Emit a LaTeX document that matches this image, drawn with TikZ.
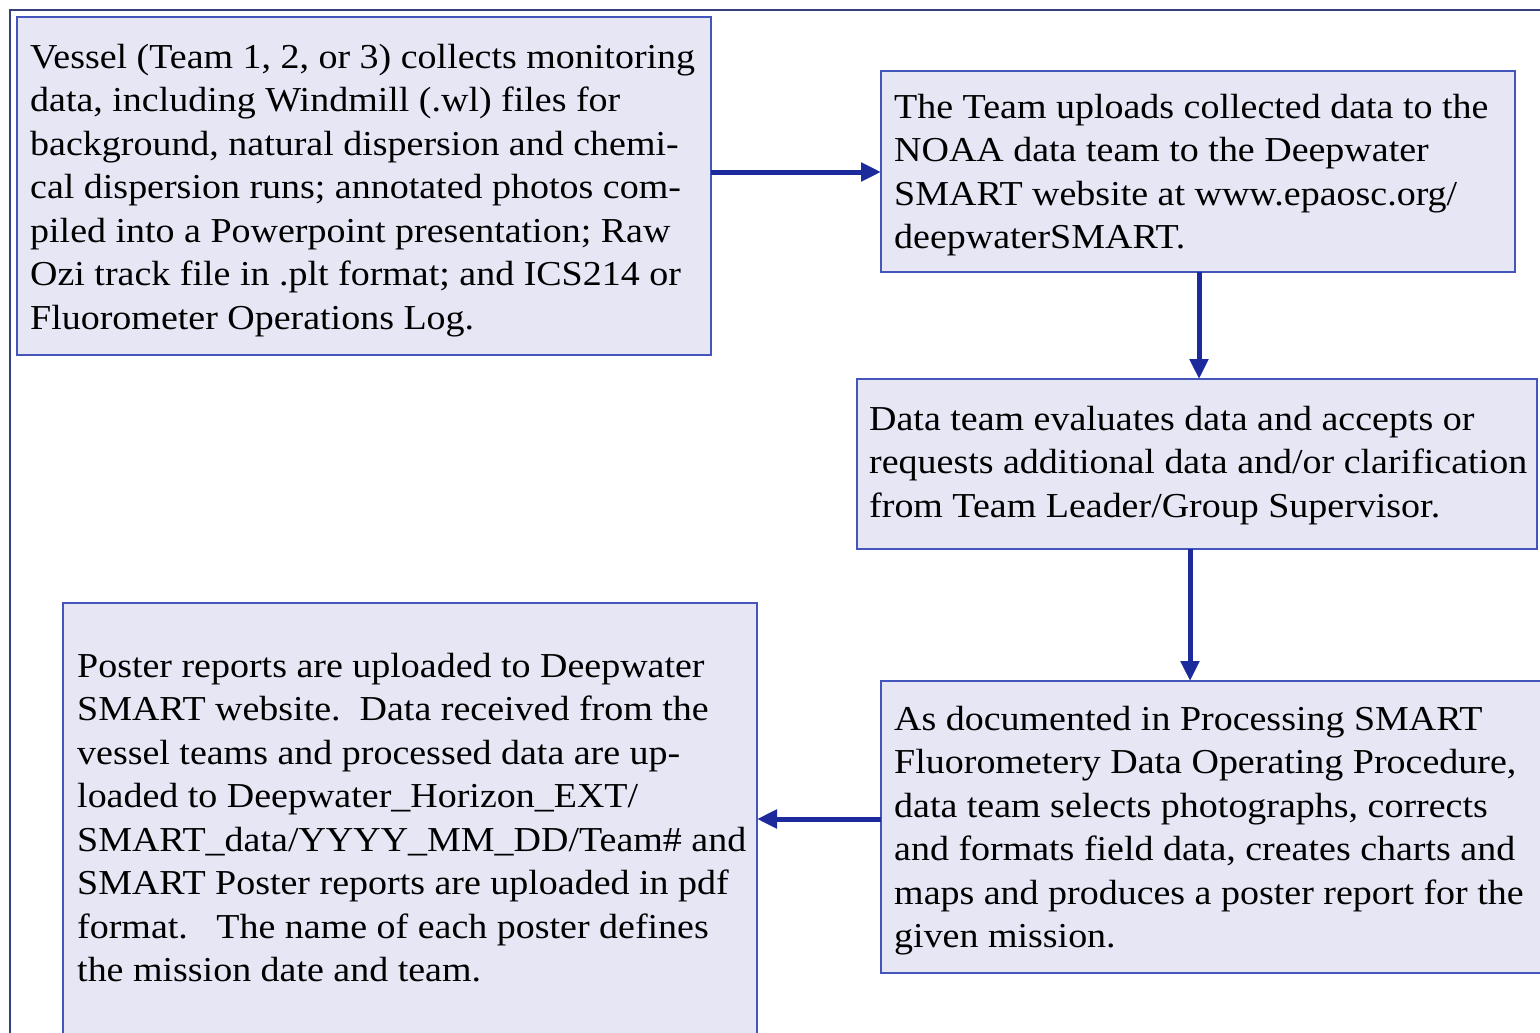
\documentclass[tikz,border=0pt]{standalone}
\usepackage{fontspec}
\setmainfont{Liberation Serif}[FakeStretch=1.085]
\usetikzlibrary{arrows.meta}
\definecolor{boxfill}{HTML}{E6E6F5}
\definecolor{boxline}{HTML}{4456BC}
\definecolor{arrowc}{HTML}{1C2A9C}
\definecolor{framec}{HTML}{34407E}
\newcommand\fl{\rule{0pt}{30pt}}
\begin{document}
\begin{tikzpicture}[x=1pt,y=-1pt,
  flowbox/.style={draw=boxline,fill=boxfill,line width=2pt},
  flowtext/.style={anchor=north west,inner sep=0pt,align=left,
    font=\fontsize{35}{43.5}\selectfont},
  flowarrow/.style={draw=arrowc,line width=5pt,
    -{Triangle[length=20pt,width=18pt]}}]
\useasboundingbox (0,0) rectangle (1540,1033);
% outer frame
\draw[framec,line width=2.5pt] (10,1040) -- (10,10) -- (1545,10);
% boxes
\draw[flowbox] (17,17) rectangle (711,355);
\draw[flowbox] (881,71) rectangle (1515,272);
\draw[flowbox] (857,379) rectangle (1537,549);
\draw[flowbox] (881,681) rectangle (1550,973);
\draw[flowbox] (63,603) rectangle (757,1045);
\path (17,17) coordinate (b1nw) (711,355) coordinate (b1se)
      (881,71) coordinate (b2nw) (1515,272) coordinate (b2se)
      (857,379) coordinate (b3nw) (1537,549) coordinate (b3se)
      (881,681) coordinate (b4nw) (1550,973) coordinate (b4se)
      (63,603) coordinate (b5nw) (757,1045) coordinate (b5se);
% text
\node[flowtext] (t1) at (30,38) {\fl Vessel (Team 1, 2, or 3) collects monitoring\\
data, including Windmill (.wl) files for\\
background, natural dispersion and chemi-\\
cal dispersion runs; annotated photos com-\\
piled into a Powerpoint presentation; Raw\\
Ozi track file in .plt format; and ICS214 or\\
Fluorometer Operations Log.};
\node[flowtext] (t2) at (894,88) {\fl The Team uploads collected data to the\\
NOAA data team to the Deepwater\\
SMART website at www.epaosc.org/\\
deepwaterSMART.};
\node[flowtext] (t3) at (869,400) {\fl Data team evaluates data and accepts or\\
requests additional data and/or clarification\\
from Team Leader/Group Supervisor.};
\node[flowtext] (t4) at (894,700) {\fl As documented in Processing SMART\\
Fluorometery Data Operating Procedure,\\
data team selects photographs, corrects\\
and formats field data, creates charts and\\
maps and produces a poster report for the\\
given mission.};
\node[flowtext] (t5) at (77,647) {\fl Poster reports are uploaded to Deepwater\\
SMART website.\ \ Data received from the\\
vessel teams and processed data are up-\\
loaded to Deepwater\_Horizon\_EXT/\\
SMART\_data/YYYY\_MM\_DD/Team\# and\\
SMART Poster reports are uploaded in pdf\\
format.\ \ \ The name of each poster defines\\
the mission date and team.};
% connectors
\draw[flowarrow] (b1se |- 0,172) -- (b2nw |- 0,172);
\draw[flowarrow] (1199,0 |- b2se) -- (1199,0 |- b3nw);
\draw[flowarrow] (1190,0 |- b3se) -- (1190,0 |- b4nw);
\draw[flowarrow] (b4nw |- 0,819) -- (b5se |- 0,819);
\end{tikzpicture}
\end{document}
